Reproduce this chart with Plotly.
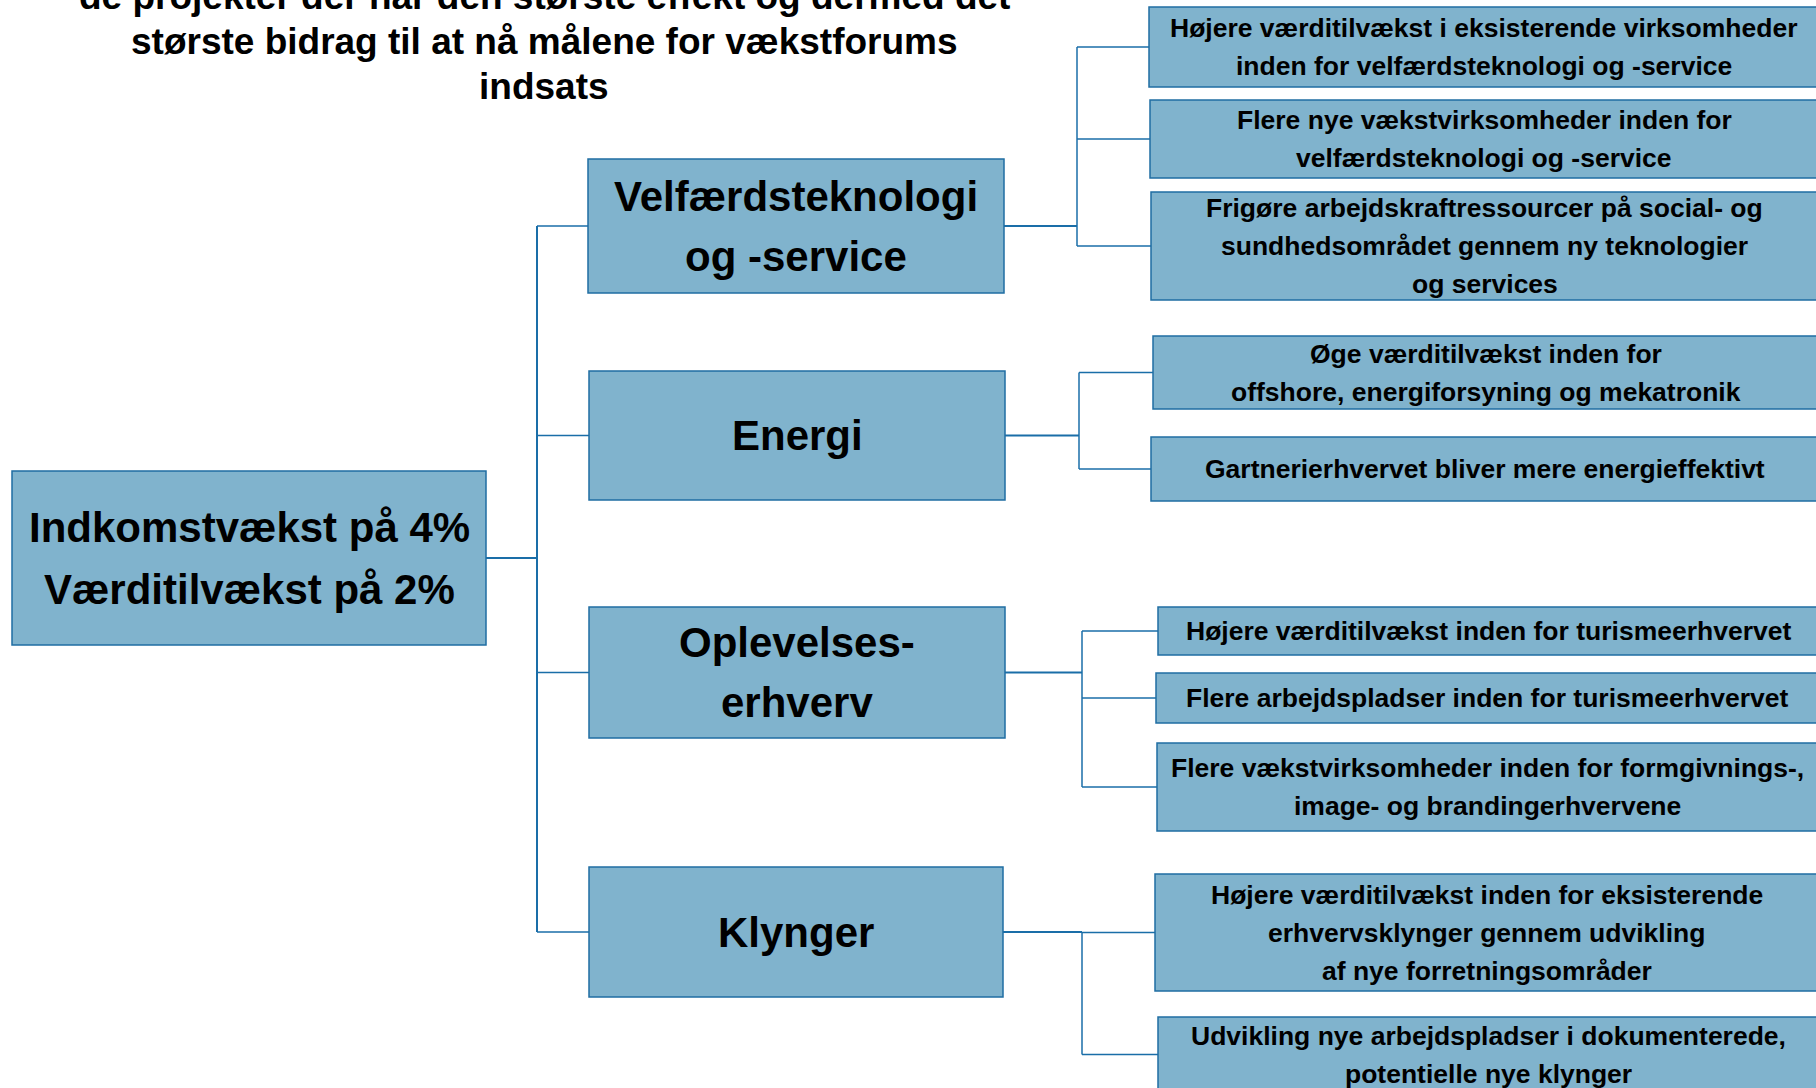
import plotly.graph_objects as go

# ---------------- data ----------------
title_lines = [
    "de projekter der har den største effekt og dermed det",
    "største bidrag til at nå målene for vækstforums",
    "indsats",
]
root_label = ["Indkomstvækst på 4%", "Værditilvækst på 2%"]

areas = [
    ["Velfærdsteknologi", "og -service"],
    ["Energi"],
    ["Oplevelses-", "erhverv"],
    ["Klynger"],
]

goals = [
    [
        ["Højere værditilvækst i eksisterende virksomheder", "inden for velfærdsteknologi og -service"],
        ["Flere nye vækstvirksomheder inden for", "velfærdsteknologi og -service"],
        ["Frigøre arbejdskraftressourcer på social- og", "sundhedsområdet gennem ny teknologier", "og services"],
    ],
    [
        ["Øge værditilvækst inden for", "offshore, energiforsyning og mekatronik"],
        ["Gartnerierhvervet bliver mere energieffektivt"],
    ],
    [
        ["Højere værditilvækst inden for turismeerhvervet"],
        ["Flere arbejdspladser inden for turismeerhvervet"],
        ["Flere vækstvirksomheder inden for formgivnings-,", "image- og brandingerhvervene"],
    ],
    [
        ["Højere værditilvækst inden for eksisterende", "erhvervsklynger gennem udvikling", "af nye forretningsområder"],
        ["Udvikling nye arbejdspladser i dokumenterede,", "potentielle nye klynger"],
    ],
]

# ---------------- layout geometry (pixels) ----------------
W, H = 1816, 1088
root_box = (12, 471, 486, 645)
area_boxes = [
    (588, 159, 1004, 293),
    (589, 371, 1005, 500),
    (589, 607, 1005, 738),
    (589, 867, 1003, 997),
]
goal_boxes = [
    [(1149, 7, 1818, 87), (1150, 100, 1818, 178), (1151, 192, 1818, 300)],
    [(1153, 336, 1818, 409), (1151, 437, 1818, 501)],
    [(1158, 607, 1818, 655), (1156, 673, 1818, 723), (1157, 743, 1818, 831)],
    [(1155, 874, 1818, 991), (1158, 1017, 1818, 1092)],
]
trunk_x = 537
branch_x = [1077, 1079, 1082, 1082]

FILL = "#80b3cd"
EDGE = "#1f6ea3"
LINE = "#1a6ea8"
FONT = "Liberation Sans, Arial, sans-serif"

shapes = []
annotations = []


def add_box(b):
    shapes.append(dict(type="rect", xref="x", yref="y", x0=b[0], y0=b[1], x1=b[2], y1=b[3],
                       fillcolor=FILL, line=dict(color=EDGE, width=1.5), layer="above"))


def add_text(lines, cx, cy, size, spacing):
    n = len(lines)
    for i, t in enumerate(lines):
        y = cy + (i - (n - 1) / 2) * spacing
        annotations.append(dict(x=cx, y=y, xref="x", yref="y", text=t, showarrow=False,
                                xanchor="center", yanchor="middle",
                                font=dict(family=FONT, size=size, color="black", weight="bold")))


def add_line(x0, y0, x1, y1, width=1.5):
    shapes.append(dict(type="line", xref="x", yref="y", x0=x0, y0=y0, x1=x1, y1=y1,
                       line=dict(color=LINE, width=width), layer="below"))


def mid(b):
    return (b[0] + b[2]) / 2, (b[1] + b[3]) / 2


# title (paper coords so that the partly cut first line is still drawn)
for i, t in enumerate(title_lines):
    py = -4 + i * 45
    annotations.append(dict(x=544 / W, y=1 - py / H, xref="paper", yref="paper", text=t,
                            showarrow=False, xanchor="center", yanchor="middle",
                            font=dict(family=FONT, size=37, color="black", weight="bold")))

# root
add_box(root_box)
rcx, rcy = mid(root_box)
add_text(root_label, rcx, rcy, 42, 62)
add_line(root_box[2], rcy, trunk_x, rcy, 2)

# trunk
area_mids = [mid(b)[1] for b in area_boxes]
add_line(trunk_x, area_mids[0], trunk_x, area_mids[-1], 2)

for ai, ab in enumerate(area_boxes):
    add_box(ab)
    cx, cy = mid(ab)
    add_text(areas[ai], cx, cy, 42, 60)
    add_line(trunk_x, cy, ab[0], cy, 1.5)
    bx = branch_x[ai]
    add_line(ab[2], cy, bx, cy, 2)
    gm = [mid(g)[1] for g in goal_boxes[ai]]
    add_line(bx, min(gm + [cy]), bx, max(gm + [cy]), 1.5)
    for gi, gb in enumerate(goal_boxes[ai]):
        add_box(gb)
        gcx, gcy = mid(gb)
        add_line(bx, gcy, gb[0], gcy, 1.5)
        add_text(goals[ai][gi], gcx, gcy, 26.5, 38)

fig = go.Figure()
fig.add_trace(go.Scatter(x=[0, W], y=[0, H], mode="markers", marker=dict(opacity=0),
                         hoverinfo="skip", showlegend=False))
fig.update_layout(
    width=W, height=H, autosize=False,
    margin=dict(l=0, r=0, t=0, b=0),
    paper_bgcolor="white", plot_bgcolor="white",
    xaxis=dict(range=[0, W], visible=False, fixedrange=True),
    yaxis=dict(range=[H, 0], visible=False, fixedrange=True),
    shapes=shapes, annotations=annotations, showlegend=False,
)
fig.write_html("out.html", config={"displayModeBar": False},
               post_script="document.body.style.margin='0';document.body.style.overflow='hidden';")
